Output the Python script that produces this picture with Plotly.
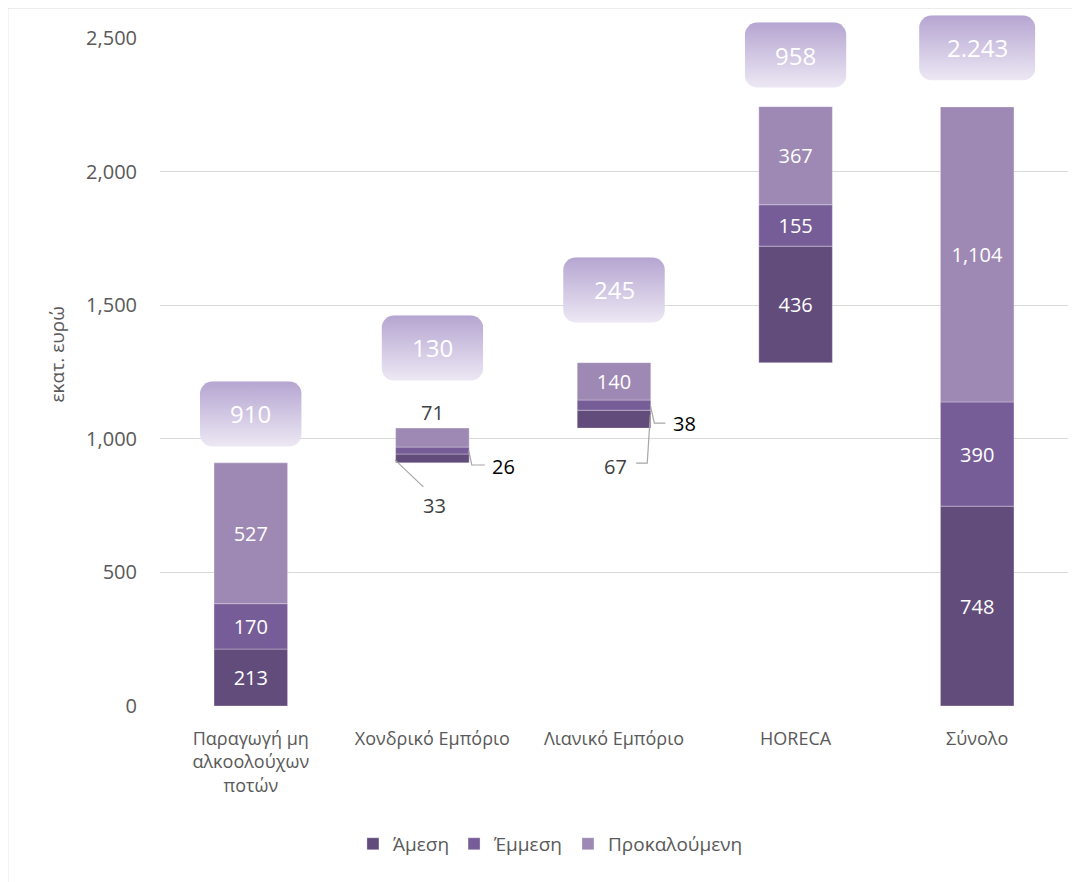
import base64
import plotly.graph_objects as go

categories = ["Παραγωγή μη<br>αλκοολούχων<br>ποτών", "Χονδρικό Εμπόριο", "Λιανικό Εμπόριο", "HORECA", "Σύνολο"]
series_names = ["Άμεση", "Έμμεση", "Προκαλούμενη"]
direct = [213, 33, 67, 436, 748]
indirect = [170, 26, 38, 155, 390]
induced = [527, 71, 140, 367, 1104]
bases = [0, 910, 1040, 1285, 0]
totals_text = ["910", "130", "245", "958", "2.243"]

# style / layout helpers
colors = ["#624c7c", "#775d98", "#9d89b3"]
YMAX = 2500
box_offsets = [183, 300, 272, 193, 221]     # box centre above bar top (y units)
box_widths = [0.56, 0.56, 0.56, 0.56, 0.64]  # in category units
box_height = 245                              # in y units
small_inside = {(0, 1), (1, 1), (2, 1), (0, 2), (1, 2)}  # (series, category) shown outside

x = list(range(len(categories)))
series = [direct, indirect, induced]

fig = go.Figure()
running = list(bases)
for si, (name, vals) in enumerate(zip(series_names, series)):
    txt = []
    for ci, v in enumerate(vals):
        txt.append("" if (si, ci) in small_inside else f"{v:,}")
    fig.add_trace(go.Bar(
        x=x, y=vals, base=list(running), name=name,
        marker=dict(color=colors[si], line=dict(color="rgba(255,255,255,0.5)", width=0.6)),
        width=0.405, text=txt, textposition="inside", insidetextanchor="middle",
        textfont=dict(color="white", size=20, family="Open Sans"),
        hoverinfo="skip",
    ))
    running = [r + v for r, v in zip(running, vals)]

tops = running

def box_svg(w, h):
    svg = (f'<svg xmlns="http://www.w3.org/2000/svg" width="{w}" height="{h}" viewBox="0 0 {w} {h}" '
           f'preserveAspectRatio="none"><defs><linearGradient id="g" x1="0" y1="0" x2="0" y2="1">'
           f'<stop offset="0" stop-color="#b5a5d1"/><stop offset="1" stop-color="#ede8f4"/>'
           f'</linearGradient></defs><rect x="0" y="0" width="{w}" height="{h}" rx="13" ry="13" '
           f'fill="url(#g)"/></svg>')
    return "data:image/svg+xml;base64," + base64.b64encode(svg.encode()).decode()

images = []
annotations = []
for ci, (t, lab) in enumerate(zip(tops, totals_text)):
    cy = t + box_offsets[ci]
    wpx = int(box_widths[ci] * 180)
    images.append(dict(
        source=box_svg(wpx, 66), xref="x", yref="paper",
        x=ci, y=(cy + box_height / 2) / YMAX, sizex=box_widths[ci], sizey=box_height / YMAX,
        xanchor="center", yanchor="top", sizing="stretch", layer="above",
    ))
    annotations.append(dict(x=ci, y=cy, xref="x", yref="y", text=lab, showarrow=False,
                            font=dict(color="white", size=24, family="Open Sans")))

# small labels outside the bars
small_labels = [
    (1, 1100, f"{induced[1]}", "#404040"),
    (1.394, 898, f"{indirect[1]}", "#000000"),
    (1.011, 752, f"{direct[1]}", "#404040"),
    (2.389, 1059, f"{indirect[2]}", "#000000"),
    (2.006, 898, f"{direct[2]}", "#404040"),
]
for lx, ly, lt, lc in small_labels:
    annotations.append(dict(x=lx, y=ly, xref="x", yref="y", text=lt, showarrow=False,
                            font=dict(color=lc, size=20, family="Open Sans")))

annotations.append(dict(x=-0.114, y=0.527, xref="paper", yref="paper", text="εκατ. ευρώ",
                        textangle=-90, showarrow=False, xanchor="center", yanchor="middle",
                        font=dict(color="#595959", size=19, family="Open Sans")))

leaders = [
    [(1.2, 956), (1.217, 902), (1.289, 902)],
    [(0.794, 921), (0.95, 820)],
    [(2.2, 1126), (2.222, 1059), (2.283, 1059)],
    [(2.2, 1089), (2.183, 909), (2.122, 909)],
]
shapes = []
for pts in leaders:
    path = "M " + " L ".join(f"{px},{py}" for px, py in pts)
    shapes.append(dict(type="path", path=path, xref="x", yref="y",
                       line=dict(color="#a6a6a6", width=1.2)))

# chart frame (left and top edges)
shapes.append(dict(type="path", xref="paper", yref="paper",
                   path="M -0.1678,-0.3 L -0.1678,1.045 L 1.05,1.045",
                   line=dict(color="#d9d9d9", width=1.3)))

# page body has an 8px margin: size the figure to fit inside the 1080x882 window
fig.update_layout(
    barmode="overlay",
    width=1072, height=874,
    margin=dict(l=152, r=12, t=30, b=176),
    paper_bgcolor="white", plot_bgcolor="white",
    font=dict(family="Open Sans", color="#595959", size=18),
    xaxis=dict(tickmode="array", tickvals=x, ticktext=categories, range=[-0.5, 4.5],
               showgrid=False, zeroline=False, showline=False, ticks="",
               ticklabelstandoff=20,
               tickfont=dict(size=18, color="#595959")),
    yaxis=dict(range=[0, YMAX], tickvals=[0, 500, 1000, 1500, 2000, 2500], tickformat=",",
               showgrid=True, gridcolor="#d9d9d9", gridwidth=1, zeroline=False, showline=False,
               ticks="", ticklabelstandoff=22, tickfont=dict(size=20, color="#595959")),
    legend=dict(orientation="h", x=0.43, xanchor="center", y=-0.178, yanchor="top",
                font=dict(size=19, color="#595959"), traceorder="normal"),
    images=images, annotations=annotations, shapes=shapes,
    showlegend=True,
)

fig.write_html("out.html")
